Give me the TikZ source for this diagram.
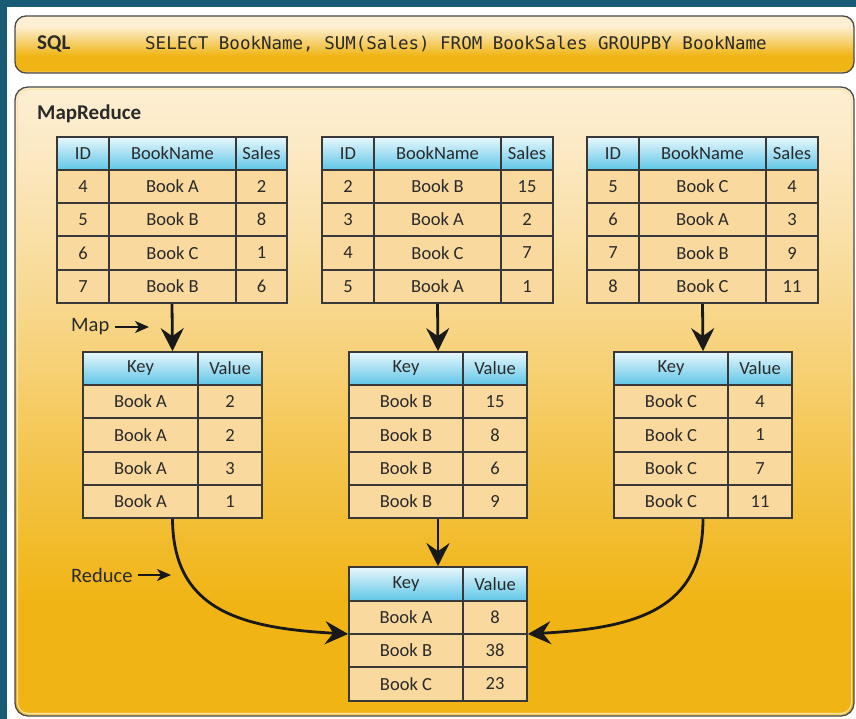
\documentclass[tikz,border=0pt]{standalone}
\usepackage{fontspec}
\setmainfont{Carlito}
\newfontfamily\monof{DejaVu Sans Mono}
\usetikzlibrary{arrows.meta,fit}

\definecolor{bgteal}{HTML}{175B75}
\definecolor{gold}{HTML}{F0B414}
\definecolor{goldhl}{HTML}{F8D67E}
\definecolor{cream}{HTML}{FDEFD3}
\definecolor{goldA}{HTML}{F4C650}
\definecolor{goldB}{HTML}{F8D890}
\definecolor{goldC}{HTML}{FCE9C4}
\definecolor{rowfill}{HTML}{F9D99E}
\definecolor{hdrtop}{HTML}{E8F7FC}
\definecolor{hdrbot}{HTML}{5FC6E8}
\definecolor{gridc}{HTML}{383838}
\definecolor{txt}{HTML}{2A2A2A}
\definecolor{framec}{HTML}{4A4A4A}

\pgfdeclareverticalshading{sqlshade}{100bp}{color(0bp)=(goldhl); color(25bp)=(goldhl); color(27.5bp)=(gold); color(40bp)=(gold); color(66bp)=(cream); color(100bp)=(cream)}
\pgfdeclareverticalshading{panelshade}{100bp}{color(0bp)=(goldhl); color(25bp)=(goldhl); color(25.4bp)=(gold); color(34bp)=(gold); color(46bp)=(goldA); color(58bp)=(goldB); color(70bp)=(goldC); color(75bp)=(cream); color(100bp)=(cream)}

\newcommand\mkcell[7]{%
  \pgfmathsetmacro\mycx{(#2+#4)/2}\pgfmathsetmacro\mycy{(#3+#5)/2}%
  \pgfmathsetmacro\mycw{#4-#2}\pgfmathsetmacro\mych{#5-#3}%
  \node[#6, minimum width=\mycw pt, minimum height=\mych pt] (#1) at (\mycx,\mycy) {#7};}
\newcommand\threerow[7]{%
  \mkcell{#1a}{\XA}{#2}{\XB}{#3}{#4}{#5}%
  \mkcell{#1b}{\XB}{#2}{\XC}{#3}{#4}{#6}%
  \mkcell{#1c}{\XC}{#2}{\XD}{#3}{#4}{#7}}
\newcommand\tworow[6]{%
  \mkcell{#1a}{\XA}{#2}{\XB}{#3}{#4}{#5}%
  \mkcell{#1b}{\XB}{#2}{\XC}{#3}{#4}{#6}}

\tikzset{
  cellbase/.style={rectangle, draw=gridc, line width=1.3pt, inner sep=0pt, text=txt,
    font=\fontsize{18.5}{20}\selectfont},
  hdr/.style={cellbase, top color=hdrtop, bottom color=hdrbot},
  row/.style={cellbase, fill=rowfill},
  bigarrow/.style={draw=black!90, line width=2.8pt, -{Stealth[length=23pt,width=23pt,inset=8pt]}},
  smallarrow/.style={draw=black!90, line width=2pt, shorten <=3pt, -{Stealth[length=14pt,width=12pt,inset=4pt]}},
  lbl/.style={inner sep=2pt, text=txt, font=\fontsize{20.5}{22}\selectfont},
  ttl/.style={inner sep=0pt, text=txt, font=\fontsize{21}{24}\selectfont\bfseries},
}

\begin{document}
\begin{tikzpicture}[x=1pt, y=-1pt]
\useasboundingbox (0,0) rectangle (856,719);
% background frame
\fill[bgteal] (0,0) rectangle (856,719);
\fill[white] (7,7) rectangle (860,725);
% SQL bar
\draw[shade, shading=sqlshade, draw=framec, line width=1.3pt, rounded corners=11pt] (15,16) rectangle (854,73);
\node[ttl, anchor=west] (sqlt) at (37,44) {SQL};
\node[anchor=west, inner sep=0pt, text=txt, font=\monof\fontsize{17.5}{20}\selectfont] (query) at (145,44) {SELECT BookName, SUM(Sales) FROM BookSales GROUPBY BookName};
% MapReduce panel
\draw[shade, shading=panelshade, draw=framec, line width=1.3pt, rounded corners=13pt] (15,87) rectangle (854,716);
\draw[goldhl!70!white, line width=1pt, rounded corners=11pt] (17.5,89.5) rectangle (851.5,713.5);
\node[ttl, anchor=west] (mrt) at (37,114) {MapReduce};

% source tables
\def\XA{57}\def\XB{109}\def\XC{236}\def\XD{287}
\threerow{ah}{137}{170}{hdr}{ID}{BookName}{Sales}
\threerow{a1}{170}{203}{row}{4}{Book A}{2}
\threerow{a2}{203}{236}{row}{5}{Book B}{8}
\threerow{a3}{236}{270}{row}{6}{Book C}{1}
\threerow{a4}{270}{303}{row}{7}{Book B}{6}
\def\XA{322}\def\XB{374}\def\XC{501}\def\XD{553}
\threerow{bh}{137}{170}{hdr}{ID}{BookName}{Sales}
\threerow{b1}{170}{203}{row}{2}{Book B}{15}
\threerow{b2}{203}{236}{row}{3}{Book A}{2}
\threerow{b3}{236}{270}{row}{4}{Book C}{7}
\threerow{b4}{270}{303}{row}{5}{Book A}{1}
\def\XA{587}\def\XB{639}\def\XC{766}\def\XD{818}
\threerow{ch}{137}{170}{hdr}{ID}{BookName}{Sales}
\threerow{c1}{170}{203}{row}{5}{Book C}{4}
\threerow{c2}{203}{236}{row}{6}{Book A}{3}
\threerow{c3}{236}{270}{row}{7}{Book B}{9}
\threerow{c4}{270}{303}{row}{8}{Book C}{11}
\node[fit=(aha)(a4c), inner sep=0pt] (T1) {};
\node[fit=(bha)(b4c), inner sep=0pt] (T2) {};
\node[fit=(cha)(c4c), inner sep=0pt] (T3) {};

% map tables
\def\XA{83}\def\XB{198}\def\XC{262}
\tworow{dh}{352}{385}{hdr}{Key}{Value}
\tworow{d1}{385}{418}{row}{Book A}{2}
\tworow{d2}{418}{452}{row}{Book A}{2}
\tworow{d3}{452}{485}{row}{Book A}{3}
\tworow{d4}{485}{518}{row}{Book A}{1}
\def\XA{349}\def\XB{463}\def\XC{527}
\tworow{eh}{352}{385}{hdr}{Key}{Value}
\tworow{e1}{385}{418}{row}{Book B}{15}
\tworow{e2}{418}{452}{row}{Book B}{8}
\tworow{e3}{452}{485}{row}{Book B}{6}
\tworow{e4}{485}{518}{row}{Book B}{9}
\def\XA{614}\def\XB{728}\def\XC{792}
\tworow{fh}{352}{385}{hdr}{Key}{Value}
\tworow{f1}{385}{418}{row}{Book C}{4}
\tworow{f2}{418}{452}{row}{Book C}{1}
\tworow{f3}{452}{485}{row}{Book C}{7}
\tworow{f4}{485}{518}{row}{Book C}{11}
\node[fit=(dha)(d4b), inner sep=0pt] (M1) {};
\node[fit=(eha)(e4b), inner sep=0pt] (M2) {};
\node[fit=(fha)(f4b), inner sep=0pt] (M3) {};

% reduce table
\def\XA{349}\def\XB{463}\def\XC{527}
\tworow{rh}{567}{601}{hdr}{Key}{Value}
\tworow{r1}{601}{634}{row}{Book A}{8}
\tworow{r2}{634}{667}{row}{Book B}{38}
\tworow{r3}{667}{701}{row}{Book C}{23}
\node[fit=(rha)(r3b), inner sep=0pt] (R) {};

% connectors
\draw[bigarrow] (T1.south) -- (M1.north);
\draw[bigarrow] (T2.south) -- (M2.north);
\draw[bigarrow] (T3.south) -- (M3.north);
\draw[bigarrow] (M2.south) -- (R.north);
\draw[bigarrow] (M1.south) .. controls (173,610) and (240,628) .. (R.west);
\draw[bigarrow] (M3.south) .. controls (703,610) and (636,628) .. (R.east);

% labels
\node[lbl, anchor=west] (maplbl) at (69,327) {Map};
\coordinate (mapend) at (149,327);
\draw[smallarrow] (maplbl) -- (mapend);
\node[lbl, anchor=west] (redlbl) at (69,575) {Reduce};
\coordinate (redend) at (171,575);
\draw[smallarrow] (redlbl) -- (redend);
\end{tikzpicture}
\end{document}
